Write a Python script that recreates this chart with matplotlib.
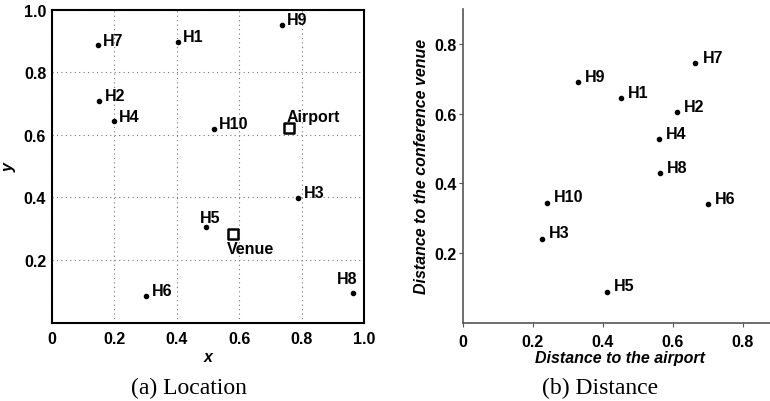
import matplotlib
matplotlib.use('Agg')
import matplotlib.pyplot as plt

plt.rcParams['font.family'] = ['Liberation Sans', 'DejaVu Sans']
plt.rcParams['font.weight'] = 'bold'
plt.rcParams['axes.labelweight'] = 'bold'

# hotel locations (panel a)
names = ['H1', 'H2', 'H3', 'H4', 'H5', 'H6', 'H7', 'H8', 'H9', 'H10']
loc_x = [0.403, 0.153, 0.790, 0.198, 0.494, 0.302, 0.147, 0.964, 0.736, 0.519]
loc_y = [0.898, 0.708, 0.398, 0.643, 0.306, 0.086, 0.886, 0.095, 0.952, 0.619]
airport = (0.761, 0.621)
venue = (0.580, 0.283)

# distances (panel b)
dist_airport = [0.451, 0.612, 0.227, 0.561, 0.412, 0.702, 0.665, 0.563, 0.330, 0.242]
dist_venue = [0.644, 0.604, 0.240, 0.526, 0.088, 0.340, 0.744, 0.429, 0.690, 0.343]

ticks = [0, 0.2, 0.4, 0.6, 0.8, 1.0]
tick_labels = ['0', '0.2', '0.4', '0.6', '0.8', '1.0']

# label offsets in points (dx, dy, ha)
off_a = {'H5': (3, 3.5, 'center'), 'H8': (-4, 7, 'center')}
off_b = {}

FS = 11.5

fig = plt.figure(figsize=(7.7, 4.02), dpi=100)

# ---- (a) Location
ax1 = fig.add_axes([51.7 / 770, 1 - 323.5 / 402, 312.3 / 770, 312.8 / 402])
ax1.scatter(loc_x, loc_y, s=9, color='black', zorder=3)
ax1.scatter(*airport, marker='s', s=60, facecolor='white', edgecolor='black', linewidths=1.8, zorder=3)
ax1.scatter(*venue, marker='s', s=60, facecolor='white', edgecolor='black', linewidths=1.8, zorder=3)
for n, x, y in zip(names, loc_x, loc_y):
    dx, dy, ha = off_a.get(n, (4, 0.5, 'left'))
    ax1.annotate(n, (x, y), xytext=(dx, dy), textcoords='offset points',
                 ha=ha, va='baseline', fontsize=FS, fontweight='bold')
ax1.annotate('Airport', airport, xytext=(-2, 5.5), textcoords='offset points',
             ha='left', va='baseline', fontsize=FS, fontweight='bold')
ax1.annotate('Venue', venue, xytext=(-4, -14), textcoords='offset points',
             ha='left', va='baseline', fontsize=FS, fontweight='bold')
ax1.set_xlim(0, 1)
ax1.set_ylim(0, 1)
ax1.set_xticks(ticks)
ax1.set_xticklabels(tick_labels)
ax1.set_yticks(ticks[1:])
ax1.set_yticklabels(tick_labels[1:])
ax1.tick_params(length=0, labelsize=FS)
ax1.tick_params(axis='x', pad=6)
ax1.tick_params(axis='y', pad=4)
ax1.grid(True, linestyle=(0, (1, 3)), color='#777777', linewidth=0.8)
for sp in ax1.spines.values():
    sp.set_linewidth(1.5)
ax1.set_xlabel('x', style='italic', fontsize=FS, fontweight='bold', labelpad=2)
ax1.set_ylabel('y', style='italic', fontsize=FS, fontweight='bold', labelpad=5)
fig.text(189 / 770, 1 - 388 / 402, '(a) Location', family='Liberation Serif',
         fontweight='normal', fontsize=17, ha='center', va='center')

# ---- (b) Distance
ax2 = fig.add_axes([462.7 / 770, 1 - 323.7 / 402, 315 / 770, 313.7 / 402])
ax2.scatter(dist_airport, dist_venue, s=9, color='black', zorder=3)
for n, x, y in zip(names, dist_airport, dist_venue):
    dx, dy, ha = off_b.get(n, (5, 1.2, 'left'))
    ax2.annotate(n, (x, y), xytext=(dx, dy), textcoords='offset points',
                 ha=ha, va='baseline', fontsize=FS, fontweight='bold')
ax2.set_xlim(0, 0.9)
ax2.set_ylim(0, 0.9)
ax2.set_xticks(ticks[:5])
ax2.set_xticklabels(tick_labels[:5])
ax2.set_yticks(ticks[1:5])
ax2.set_yticklabels(tick_labels[1:5])
ax2.tick_params(length=3, width=0.8, color='#555555', labelsize=FS)
ax2.tick_params(axis='x', pad=5)
ax2.tick_params(axis='y', pad=1.5)
for s in ['top', 'right']:
    ax2.spines[s].set_visible(False)
for s in ['left', 'bottom']:
    ax2.spines[s].set_color('#555555')
    ax2.spines[s].set_linewidth(1.2)
ax2.set_xlabel('Distance to the airport', style='italic', fontsize=FS, fontweight='bold', labelpad=1)
ax2.set_ylabel('Distance to the conference venue', style='italic', fontsize=FS,
               fontweight='bold', labelpad=4)
fig.text(600 / 770, 1 - 388 / 402, '(b) Distance', family='Liberation Serif',
         fontweight='normal', fontsize=17, ha='center', va='center')

fig.savefig('out.png', dpi=100)
